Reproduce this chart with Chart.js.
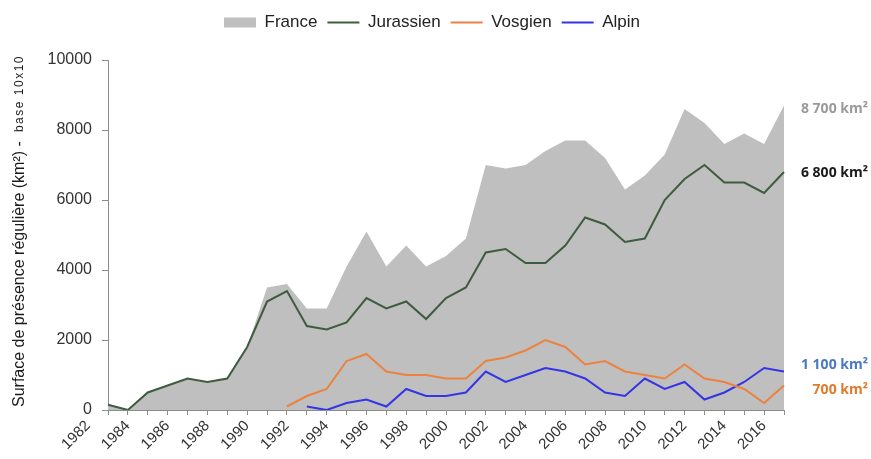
<!DOCTYPE html>
<html lang="fr">
<head>
<meta charset="utf-8">
<title>Surface de présence régulière du lynx</title>
<script src="https://cdn.jsdelivr.net/npm/chart.js@4.4.1/dist/chart.umd.min.js"></script>
<style>
    html, body { margin: 0; padding: 0; background: #ffffff; }
    #graphique { width: 871px; height: 459px; }
</style>
</head>
<body>
<div id="graphique"><canvas id="myChart"></canvas></div>
<script>
// valeurs (km²)
const annees = ['1982', '1983', '1984', '1985', '1986', '1987', '1988', '1989', '1990', '1991',
    '1992', '1993', '1994', '1995', '1996', '1997', '1998', '1999', '2000', '2001',
    '2002', '2003', '2004', '2005', '2006', '2007', '2008', '2009', '2010', '2011',
    '2012', '2013', '2014', '2015', '2016'];

const france = [150, 0, 500, 700, 900, 800, 900, 1800, 3500, 3600,
    2900, 2900, 4100, 5100, 4100, 4700, 4100, 4400, 4900, 7000,
    6900, 7000, 7400, 7700, 7700, 7200, 6300, 6700, 7300, 8600,
    8200, 7600, 7900, 7600, 8700];

const jurassien = [150, 0, 500, 700, 900, 800, 900, 1800, 3100, 3400,
    2400, 2300, 2500, 3200, 2900, 3100, 2600, 3200, 3500, 4500,
    4600, 4200, 4200, 4700, 5500, 5300, 4800, 4900, 6000, 6600,
    7000, 6500, 6500, 6200, 6800];

const vosgien = [null, null, null, null, null, null, null, null, null, 100,
    400, 600, 1400, 1600, 1100, 1000, 1000, 900, 900, 1400,
    1500, 1700, 2000, 1800, 1300, 1400, 1100, 1000, 900, 1300,
    900, 800, 600, 200, 700];

const alpin = [null, null, null, null, null, null, null, null, null, null,
    100, 0, 200, 300, 100, 600, 400, 400, 500, 1100,
    800, 1000, 1200, 1100, 900, 500, 400, 900, 600, 800,
    300, 500, 800, 1200, 1100];

const graduationsY = [0, 2000, 4000, 6000, 8000, 10000];

const titreAxe = 'Surface de présence régulière (km²) -';
const titreBase = 'base 10x10';

Chart.defaults.font.family = "'Liberation Sans', Arial, sans-serif";
Chart.defaults.color = '#333333';

function FormaterKm(v) {
    return String(v).replace(/\B(?=(\d{3})+(?!\d))/g, ' ') + ' km²';
}

// titre de l'axe Y en deux tailles
const titreY = {
    id: 'titreY',
    afterDraw(chart) {
        const ctx = chart.ctx;
        const area = chart.chartArea;
        ctx.save();
        ctx.translate(24, area.bottom - 3);
        ctx.rotate(-Math.PI / 2);
        ctx.textBaseline = 'alphabetic';
        ctx.fillStyle = '#1a1a1a';
        ctx.textAlign = 'left';
        ctx.font = "16px 'Liberation Sans', Arial, sans-serif";
        ctx.fillText(titreAxe, 0, 0);
        ctx.font = "12px 'Liberation Sans', Arial, sans-serif";
        ctx.letterSpacing = '1.5px';
        ctx.textAlign = 'right';
        ctx.fillText(titreBase, area.bottom - area.top + 2, -1);
        ctx.restore();
    }
};

// valeurs de fin de série à droite
const etiquettesFin = {
    id: 'etiquettesFin',
    afterDatasetsDraw(chart) {
        const ctx = chart.ctx;
        const y = chart.scales.y;
        const series = [
            [france, '#9a9a9a', 4],
            [jurassien, '#1a1a1a', 1],
            [alpin, '#4a78c2', -6],
            [vosgien, '#e07a2c', 5]
        ];
        ctx.save();
        ctx.font = "bold 14px 'Open Sans', sans-serif";
        ctx.textAlign = 'right';
        ctx.textBaseline = 'middle';
        series.forEach(function (s) {
            const v = s[0][s[0].length - 1];
            ctx.fillStyle = s[1];
            ctx.fillText(FormaterKm(v), chart.width - 3, y.getPixelForValue(v) + s[2]);
        });
        ctx.restore();
    }
};

let dados = {
    labels: annees,
    datasets: [{
        label: 'France',
        data: france,
        fill: 'origin',
        backgroundColor: '#bfbfbf',
        borderColor: '#bfbfbf',
        borderWidth: 0,
        pointRadius: 0,
        pointStyle: 'rect'
    }, {
        label: 'Jurassien',
        data: jurassien,
        borderColor: '#3e5c3e',
        backgroundColor: '#3e5c3e',
        borderWidth: 2,
        pointRadius: 0,
        pointStyle: 'line'
    }, {
        label: 'Vosgien',
        data: vosgien,
        borderColor: '#ec8240',
        backgroundColor: '#ec8240',
        borderWidth: 2,
        pointRadius: 0,
        pointStyle: 'line'
    }, {
        label: 'Alpin',
        data: alpin,
        borderColor: '#3535e6',
        backgroundColor: '#3535e6',
        borderWidth: 2,
        pointRadius: 0,
        pointStyle: 'line'
    }]
};

let options = {
    responsive: true,
    maintainAspectRatio: false,
    animation: false,
    layout: {
        padding: { left: 40, right: 47, top: 4, bottom: 0 }
    },
    plugins: {
        filler: { drawTime: 'beforeDatasetsDraw' },
        tooltip: { enabled: false },
        legend: {
            position: 'top',
            labels: {
                usePointStyle: true,
                pointStyleWidth: 32,
                boxHeight: 10,
                padding: 10,
                color: '#222222',
                font: { size: 17 }
            }
        },
        // espace entre la légende et le graphique
        title: {
            display: true,
            text: '',
            weight: 500,
            padding: 0,
            font: { size: 19, lineHeight: 1 }
        }
    },
    scales: {
        x: {
            type: 'category',
            offset: false,
            border: { color: '#8c8c8c', width: 1 },
            grid: { drawOnChartArea: false, drawTicks: true, tickLength: 5, color: '#8c8c8c' },
            ticks: {
                autoSkip: false,
                maxRotation: 45,
                minRotation: 45,
                padding: 2,
                labelOffset: -20,
                color: '#333333',
                font: { size: 15 },
                callback: function (v, i) { return i % 2 === 0 ? annees[i] : ''; }
            },
            afterFit: function (scale) { scale.height = 49; }
        },
        y: {
            min: 0,
            max: 10000,
            border: { color: '#8c8c8c', width: 1 },
            grid: { drawOnChartArea: false, drawTicks: true, tickLength: 6, color: '#8c8c8c' },
            afterBuildTicks: function (scale) {
                scale.ticks = graduationsY.map(function (v) { return { value: v }; });
            },
            ticks: {
                padding: 10,
                color: '#333333',
                font: { size: 16 },
                callback: function (v) { return String(v); }
            },
            afterFit: function (scale) { scale.width = 68; }
        },
        // marge à droite pour les valeurs finales
        marge: {
            type: 'linear',
            position: 'right',
            display: true,
            grid: { display: false },
            border: { display: false },
            ticks: { display: false },
            afterFit: function (scale) { scale.width = 40; }
        }
    }
};

let config = {
    type: 'line',
    data: dados,
    options: options,
    plugins: [titreY, etiquettesFin]
};
let myChart = new Chart(document.getElementById('myChart'), config);
</script>
</body>
</html>
